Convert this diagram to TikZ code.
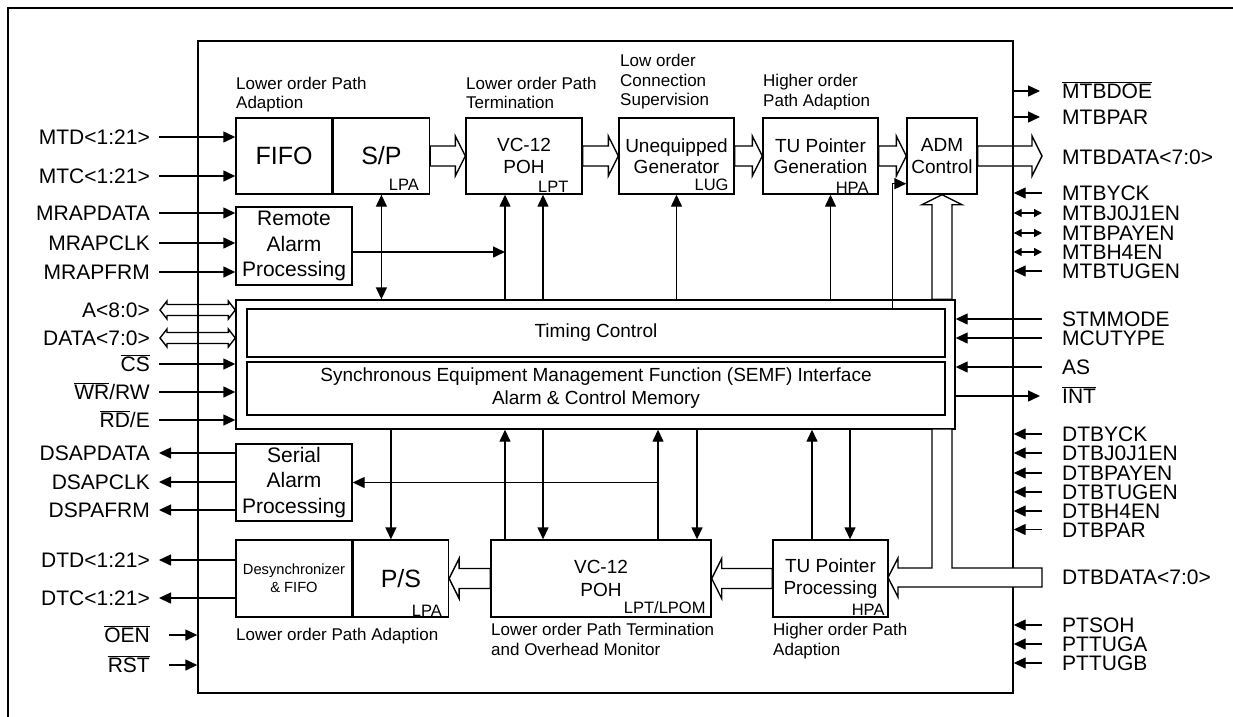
\documentclass[tikz,border=0pt]{standalone}
\usepackage{fontspec}
\setmainfont{Liberation Sans}
\usepackage{tikz}
\usetikzlibrary{calc,arrows.meta,positioning}
\newcommand\fs[2]{\fontsize{#1}{#2}\selectfont}
\newcommand\ovl[1]{$\overline{\hbox{#1}}$}
\tikzset{
    block/.style={draw,line width=1.4pt,inner sep=0pt,align=center},
    note/.style={anchor=north west,inner sep=0pt,align=left,font=\fs{17}{19.5}},
    tag/.style={anchor=south east,inner sep=0pt,font=\fs{16.5}{17}},
    lsig/.style={anchor=east,inner sep=0pt,text height=15pt,text depth=0pt,font=\fs{21}{21}},
    rsig/.style={lsig,anchor=west},
    sig/.style={line width=1.4pt,-{Triangle[length=12pt,width=11pt]}},
    sigdbl/.style={line width=1.4pt,{Triangle[length=12pt,width=11pt]}-{Triangle[length=12pt,width=11pt]}},
    sigboth/.style={line width=1.4pt,{Triangle[length=8pt,width=8pt]}-{Triangle[length=8pt,width=8pt]}},
    hbus/.style={line width=1.4pt,to path={let \p1=(\tikztostart), \p2=(\tikztotarget),
        \p3=($(\x2,\y1)!10pt!(\p1)$) in
        (\x1,\y1+10pt) -- (\x3,\y1+10pt) -- (\x3,\y1+20pt) -- (\x2,\y1)
        -- (\x3,\y1-20pt) -- (\x3,\y1-10pt) -- (\x1,\y1-10pt) -- cycle}},
    vbus/.style={line width=1.4pt,to path={let \p1=(\tikztostart), \p2=(\tikztotarget),
        \p3=($(\x1,\y2)!10pt!(\p1)$) in
        (\x1+10pt,\y1) -- (\x1+10pt,\y3) -- (\x1+20pt,\y3) -- (\x1,\y2)
        -- (\x1-20pt,\y3) -- (\x1-10pt,\y3) -- (\x1-10pt,\y1) -- cycle}},
    dbus/.style={line width=1.4pt,to path={let \p1=(\tikztostart), \p2=(\tikztotarget),
        \p3=($(\x1,\y1)!7pt!(\x2,\y1)$), \p4=($(\x2,\y1)!7pt!(\x1,\y1)$) in
        (\x1,\y1) -- (\x3,\y1+9pt) -- (\x3,\y1+5.5pt) -- (\x4,\y1+5.5pt) -- (\x4,\y1+9pt) -- (\x2,\y1)
        -- (\x4,\y1-9pt) -- (\x4,\y1-5.5pt) -- (\x3,\y1-5.5pt) -- (\x3,\y1-9pt) -- cycle}}
}
\begin{document}
\begin{tikzpicture}[x=1pt,y=-1pt]
\useasboundingbox (0,0) rectangle (1233,716);
% outer frame and chip
\draw[line width=2.8pt] (8,760) -- (8,8) -- (1280,8);
\node[block,minimum width=815pt,minimum height=652pt] (chip) at (605.5,367) {};

% upper path blocks
\node[block,minimum width=96pt,minimum height=76pt,font=\fs{25}{25}] (fifo) at (284,156) {FIFO};
\node[block,minimum width=96pt,minimum height=76pt,font=\fs{25}{25},right=0pt of fifo] (sp) {S/P};
\node[block,minimum width=116pt,minimum height=76pt,font=\fs{19}{22}] (vc12t) at (524,156) {VC-12\\POH};
\node[block,minimum width=115pt,minimum height=76pt,font=\fs{19}{21}] (ueq) at (676.5,156) {Unequipped\\Generator};
\node[block,minimum width=115pt,minimum height=76pt,font=\fs{19}{21}] (tpg) at (820.5,156) {TU Pointer\\Generation};
\node[block,minimum width=70pt,minimum height=76pt,font=\fs{19}{22}] (adm) at (942,156) {ADM\\Control};
\node[block,minimum width=116pt,minimum height=78pt,font=\fs{21}{25.5}] (remote) at (294,246) {Remote\\Alarm\\Processing};
\node[tag] at ([xshift=-11pt,yshift=4pt]sp.south east) {LPA};
\node[tag] at ([xshift=-14pt,yshift=2pt]vc12t.south east) {LPT};
\node[tag] at ([xshift=-6pt,yshift=4pt]ueq.south east) {LUG};
\node[tag] at ([xshift=-10pt,yshift=1pt]tpg.south east) {HPA};
\node[note] at (236,76.5) {Lower order Path\\Adaption};
\node[note] at (466,76.5) {Lower order Path\\Termination};
\node[note] at (620,54) {Low order\\Connection\\Supervision};
\node[note] at (763,74) {Higher order\\Path Adaption};

% central block
\node[block,minimum width=719pt,minimum height=129pt] (central) at (595.5,364.5) {};
\node[block,minimum width=698pt,minimum height=48pt,font=\fs{19}{23}] (timing) at (596,333) {Timing Control};
\node[block,minimum width=698pt,minimum height=53pt,font=\fs{19}{23}] (semf) at (596,388.5)
    {Synchronous Equipment Management Function (SEMF) Interface\\Alarm \& Control Memory};

% lower path blocks
\node[block,minimum width=116pt,minimum height=77pt,font=\fs{21}{25.5}] (serial) at (294,482.5) {Serial\\Alarm\\Processing};
\node[block,minimum width=116pt,minimum height=77pt,font=\fs{14.7}{18}] (desync) at (294,578.5) {Desynchronizer\\\& FIFO};
\node[block,minimum width=95pt,minimum height=77pt,font=\fs{25}{25},right=0pt of desync] (ps) {P/S};
\node[block,minimum width=220pt,minimum height=77pt,font=\fs{19}{23}] (vc12b) at (601,578.5) {VC-12\\POH};
\node[block,minimum width=115pt,minimum height=77pt,font=\fs{19}{22}] (tpp) at (830.5,578.5) {TU Pointer\\Processing};
\node[tag] at ([xshift=-7pt,yshift=1pt]ps.south east) {LPA};
\node[tag] at ([xshift=-6pt,yshift=4pt]vc12b.south east) {LPT/LPOM};
\node[tag] at ([xshift=-4pt,yshift=2pt]tpp.south east) {HPA};
\node[note] at (236,628) {Lower order Path Adaption};
\node[note] at (491,623) {Lower order Path Termination\\and Overhead Monitor};
\node[note] at (773,623) {Higher order Path\\Adaption};

% upper internal connections
\draw[hbus] (sp.east) to (vc12t.west);
\draw[hbus] (vc12t.east) to (ueq.west);
\draw[hbus] (ueq.east) to (tpg.west);
\draw[hbus] (tpg.east) to (adm.west);
\draw[sigdbl] (sp.south) -- (sp.south |- central.north);
\coordinate (lpt1) at ([xshift=-19pt]vc12t.south);
\coordinate (lpt2) at ([xshift=19pt]vc12t.south);
\coordinate (hpa1) at ([xshift=10pt]tpg.south);
\draw[sig] (lpt1 |- central.north) -- (lpt1);
\draw[sig] (lpt2 |- central.north) -- (lpt2);
\draw[sig] (ueq.south |- central.north) -- (ueq.south);
\draw[sig] (hpa1 |- central.north) -- (hpa1);
\coordinate (ra) at ([yshift=-6pt]remote.east);
\draw[sig] (ra) -- (ra -| lpt1);
\coordinate (admin) at ([xshift=-14pt,yshift=11pt]adm.south west);
\draw[sig] (admin |- timing.north) |- (adm.west |- admin);
\draw[vbus] (adm.south |- central.north) to (adm.south);

% lower internal connections
\coordinate (ps1) at ([xshift=-10pt]ps.north);
\coordinate (lpom1) at ([xshift=-96pt]vc12b.north);
\coordinate (lpom2) at ([xshift=-58pt]vc12b.north);
\coordinate (lpom3) at ([xshift=57pt]vc12b.north);
\coordinate (lpom4) at ([xshift=96pt]vc12b.north);
\coordinate (hpa2) at ([xshift=-18.5pt]tpp.north);
\coordinate (hpa3) at ([xshift=19.5pt]tpp.north);
\draw[sig] (ps1 |- central.south) -- (ps1);
\draw[sig] (lpom1) -- (lpom1 |- central.south);
\draw[sig] (lpom2 |- central.south) -- (lpom2);
\draw[sig] (lpom3) -- (lpom3 |- central.south);
\draw[sig] (lpom4 |- central.south) -- (lpom4);
\draw[sig] (lpom3 |- serial.east) -- (serial.east);
\draw[sig] (hpa2) -- (hpa2 |- central.south);
\draw[sig] (hpa3 |- central.south) -- (hpa3);
\draw[hbus] (tpp.west) to (vc12b.east);
\draw[hbus] (vc12b.west) to (ps.east);

% left side pins
\node[lsig] (mtd) at (150,137) {MTD<1:21>};
\node[lsig] (mtc) at (150,176) {MTC<1:21>};
\node[lsig] (mrapdata) at (150,213) {MRAPDATA};
\node[lsig] (mrapclk) at (150,243) {MRAPCLK};
\node[lsig] (mrapfrm) at (150,272) {MRAPFRM};
\node[lsig] (addr) at (150,310) {A<8:0>};
\node[lsig] (data) at (150,338) {DATA<7:0>};
\node[lsig] (cs) at (150,364) {\ovl{CS}};
\node[lsig] (wr) at (150,392) {\ovl{WR}/RW};
\node[lsig] (rd) at (150,420) {\ovl{RD}/E};
\node[lsig] (dsapdata) at (150,453) {DSAPDATA};
\node[lsig] (dsapclk) at (150,482) {DSAPCLK};
\node[lsig] (dspafrm) at (150,510) {DSPAFRM};
\node[lsig] (dtd) at (150,560) {DTD<1:21>};
\node[lsig] (dtc) at (150,598) {DTC<1:21>};
\node[lsig] (oen) at (150,635) {\ovl{OEN}};
\node[lsig] (rst) at (150,665) {\ovl{RST}};
\draw[sig] ([xshift=9pt]mtd.east) -- (mtd.east -| fifo.west);
\draw[sig] ([xshift=9pt]mtc.east) -- (mtc.east -| fifo.west);
\draw[sig] ([xshift=9pt]mrapdata.east) -- (mrapdata.east -| remote.west);
\draw[sig] ([xshift=9pt]mrapclk.east) -- (mrapclk.east -| remote.west);
\draw[sig] ([xshift=9pt]mrapfrm.east) -- (mrapfrm.east -| remote.west);
\draw[dbus] ([xshift=10pt]addr.east) to (addr.east -| central.west);
\draw[dbus] ([xshift=10pt]data.east) to (data.east -| central.west);
\draw[sig] ([xshift=9pt]cs.east) -- (cs.east -| central.west);
\draw[sig] ([xshift=9pt]wr.east) -- (wr.east -| central.west);
\draw[sig] ([xshift=9pt]rd.east) -- (rd.east -| central.west);
\draw[sig] (dsapdata.east -| serial.west) -- ([xshift=9pt]dsapdata.east);
\draw[sig] (dsapclk.east -| serial.west) -- ([xshift=9pt]dsapclk.east);
\draw[sig] (dspafrm.east -| serial.west) -- ([xshift=9pt]dspafrm.east);
\draw[sig] (dtd.east -| desync.west) -- ([xshift=9pt]dtd.east);
\draw[sig] (dtc.east -| desync.west) -- ([xshift=9pt]dtc.east);
\draw[sig] ([xshift=19pt]oen.east) -- (oen.east -| chip.west);
\draw[sig] ([xshift=19pt]rst.east) -- (rst.east -| chip.west);

% right side pins
\node[rsig] (mtbdoe) at (1062,91) {\ovl{MTBDOE}};
\node[rsig] (mtbpar) at (1062,117) {MTBPAR};
\node[rsig] (mtbdata) at (1062,157) {MTBDATA<7:0>};
\node[rsig] (mtbyck) at (1062,193) {MTBYCK};
\node[rsig] (mtbj) at (1062,213) {MTBJ0J1EN};
\node[rsig] (mtbpayen) at (1062,233) {MTBPAYEN};
\node[rsig] (mtbh4en) at (1062,252) {MTBH4EN};
\node[rsig] (mtbtugen) at (1062,271) {MTBTUGEN};
\node[rsig] (stmmode) at (1062,319) {STMMODE};
\node[rsig] (mcutype) at (1062,338) {MCUTYPE};
\node[rsig] (as) at (1062,367) {AS};
\node[rsig] (int) at (1062,396) {\ovl{INT}};
\node[rsig] (dtbyck) at (1062,434) {DTBYCK};
\node[rsig] (dtbj) at (1062,453) {DTBJ0J1EN};
\node[rsig] (dtbpayen) at (1062,473) {DTBPAYEN};
\node[rsig] (dtbtugen) at (1062,492) {DTBTUGEN};
\node[rsig] (dtbh4en) at (1062,511) {DTBH4EN};
\node[rsig] (dtbpar) at (1062,529.5) {DTBPAR};
\node[rsig] (dtbdata) at (1062,577) {DTBDATA<7:0>};
\node[rsig] (ptsoh) at (1062,625) {PTSOH};
\node[rsig] (pttuga) at (1062,644) {PTTUGA};
\node[rsig] (pttugb) at (1062,663) {PTTUGB};
\draw[sig] (mtbdoe.west -| chip.east) -- ([xshift=-22pt]mtbdoe.west);
\draw[sig] (mtbpar.west -| chip.east) -- ([xshift=-22pt]mtbpar.west);
\draw[hbus] (adm.east) to ([xshift=-20pt]mtbdata.west);
\draw[sig] ([xshift=-20pt]mtbyck.west) -- (mtbyck.west -| chip.east);
\draw[sigboth] (mtbj.west -| chip.east) -- ([xshift=-20pt]mtbj.west);
\draw[sigboth] (mtbpayen.west -| chip.east) -- ([xshift=-20pt]mtbpayen.west);
\draw[sigboth] (mtbh4en.west -| chip.east) -- ([xshift=-20pt]mtbh4en.west);
\draw[sig] ([xshift=-20pt]mtbtugen.west) -- (mtbtugen.west -| chip.east);
\draw[sig] ([xshift=-20pt]stmmode.west) -- (stmmode.west -| central.east);
\draw[sig] ([xshift=-20pt]mcutype.west) -- (mcutype.west -| central.east);
\draw[sig] ([xshift=-20pt]as.west) -- (as.west -| central.east);
\draw[sig] (int.west -| central.east) -- ([xshift=-22pt]int.west);
\draw[sig] ([xshift=-20pt]dtbyck.west) -- (dtbyck.west -| chip.east);
\draw[sig] ([xshift=-20pt]dtbj.west) -- (dtbj.west -| chip.east);
\draw[sig] ([xshift=-20pt]dtbpayen.west) -- (dtbpayen.west -| chip.east);
\draw[sig] ([xshift=-20pt]dtbtugen.west) -- (dtbtugen.west -| chip.east);
\draw[sig] ([xshift=-20pt]dtbh4en.west) -- (dtbh4en.west -| chip.east);
\draw[sig] ([xshift=-20pt]dtbpar.west) -- (dtbpar.west -| chip.east);
\draw[sig] ([xshift=-20pt]ptsoh.west) -- (ptsoh.west -| chip.east);
\draw[sig] ([xshift=-20pt]pttuga.west) -- (pttuga.west -| chip.east);
\draw[sig] ([xshift=-20pt]pttugb.west) -- (pttugb.west -| chip.east);
% DTBDATA bus, split up to ADM and over to TU pointer processing
\draw[line width=1.4pt,fill=white] (1042,568) -- (952,568) -- (952,429) -- (932,429) -- (932,568)
    -- (898,568) -- (898,558) -- (888,577.5) -- (898,597) -- (898,587) -- (1042,587) -- cycle;
\end{tikzpicture}
\end{document}
